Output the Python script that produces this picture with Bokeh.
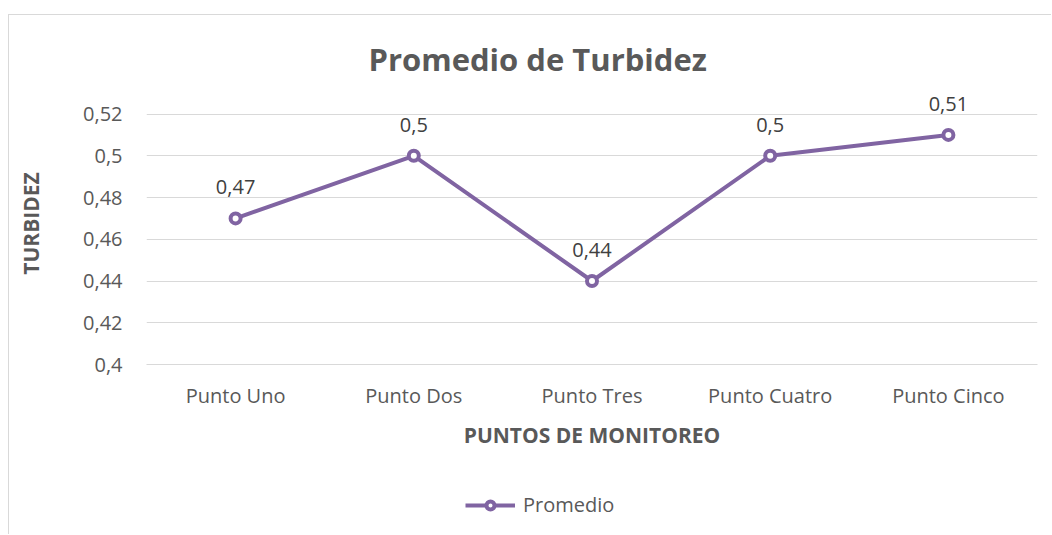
from bokeh.plotting import figure
from bokeh.layouts import column
from bokeh.models import (ColumnDataSource, FixedTicker, CustomJSTickFormatter,
                          Legend, LegendItem, Range1d, FactorRange)
from bokeh.embed import file_html
from bokeh.resources import INLINE
from bokeh.core.properties import value

# ---- data ----
categories = ["Punto Uno", "Punto Dos", "Punto Tres", "Punto Cuatro", "Punto Cinco"]
promedio = [0.47, 0.50, 0.44, 0.50, 0.51]
y_ticks = [0.40, 0.42, 0.44, 0.46, 0.48, 0.50, 0.52]
series_name = "Promedio"
title_text = "Promedio de Turbidez"
x_title = "PUNTOS DE MONITOREO"
y_title = "TURBIDEZ"


def fmt(v):
    s = f"{v:.2f}".rstrip("0")
    if s.endswith("."):
        s = s[:-1]
    return s.replace(".", ",")


labels = [fmt(v) for v in promedio]

PURPLE = "#8064A2"
GRID = "#d9d9d9"
TXT = "#595959"
FONT = "Open Sans"

src = ColumnDataSource(dict(cat=categories, val=promedio, lab=labels))

# ---------------- main chart ----------------
p = figure(x_range=FactorRange(*categories, range_padding=0),
           y_range=Range1d(0.40, 0.5351),
           width=1043, height=455, output_backend="svg", toolbar_location=None,
           min_border_left=137, min_border_right=15, min_border_top=67, min_border_bottom=106)
p.styles = {"margin-left": "8px", "margin-top": "14px",
            "border-left": "1px solid #d9d9d9", "border-top": "1px solid #d9d9d9"}
p.outline_line_color = None
p.background_fill_color = "white"
p.border_fill_color = "white"

p.title.text = title_text
p.title.align = "left"
p.title.offset = 222
p.title.standoff = 5
p.title.text_font = FONT
p.title.text_font_size = "31px"
p.title.text_font_style = "bold"
p.title.text_color = TXT

# grid
p.xgrid.grid_line_color = None
p.ygrid.grid_line_color = GRID
p.ygrid.grid_line_width = 1

# y axis
p.yaxis.ticker = FixedTicker(ticks=y_ticks)
p.yaxis.formatter = CustomJSTickFormatter(
    code="return tick.toFixed(2).replace(/0$/, '').replace('.', ',');")
p.yaxis.axis_line_color = None
p.yaxis.major_tick_line_color = None
p.yaxis.minor_tick_line_color = None
p.yaxis.major_label_standoff = 18
p.yaxis.major_label_text_font = FONT
p.yaxis.major_label_text_font_size = "20px"
p.yaxis.major_label_text_color = TXT
p.yaxis.axis_label = y_title
p.yaxis.axis_label_text_font = FONT
p.yaxis.axis_label_text_font_size = "21px"
p.yaxis.axis_label_text_font_style = "bold"
p.yaxis.axis_label_text_color = TXT
p.yaxis.axis_label_standoff = 35

# x axis
p.xaxis.axis_line_color = GRID
p.xaxis.major_tick_line_color = None
p.xaxis.major_label_standoff = 11
p.xaxis.major_label_text_font = FONT
p.xaxis.major_label_text_font_size = "20px"
p.xaxis.major_label_text_color = TXT
p.xaxis.axis_label = x_title
p.xaxis.axis_label_text_font = FONT
p.xaxis.axis_label_text_font_size = "21px"
p.xaxis.axis_label_text_font_style = "bold"
p.xaxis.axis_label_text_color = TXT
p.xaxis.axis_label_standoff = 9

# series
p.line(x="cat", y="val", source=src, line_color=PURPLE, line_width=4)
p.scatter(x="cat", y="val", source=src, size=10, fill_color="white",
          line_color=PURPLE, line_width=4)
p.text(x="cat", y="val", text="lab", source=src, text_align="center",
       text_baseline="alphabetic", y_offset=-31, text_font=value(FONT),
       text_font_size="20px", text_color="#404040")

# ---------------- legend strip ----------------
# same series drawn against a y range that excludes it, so only the legend key shows
p2 = figure(x_range=FactorRange(*categories, range_padding=0), y_range=Range1d(0.0, 0.1),
            width=1043, height=65, output_backend="svg", toolbar_location=None,
            x_axis_location=None, y_axis_location=None,
            min_border_left=0, min_border_right=0, min_border_top=0, min_border_bottom=0)
p2.styles = {"margin-left": "8px", "border-left": "1px solid #d9d9d9"}
p2.outline_line_color = None
p2.grid.visible = False
lk_line = p2.line(x="cat", y="val", source=src, line_color=PURPLE, line_width=4)
lk_mark = p2.scatter(x="cat", y="val", source=src, size=10, fill_color="white",
                     line_color=PURPLE, line_width=4)
legend = Legend(items=[LegendItem(label=series_name, renderers=[lk_line, lk_mark])],
                location=(319, 16), orientation="horizontal",
                glyph_width=50, glyph_height=20, label_standoff=8,
                padding=0, margin=0, border_line_color=None, background_fill_alpha=0,
                label_text_font=FONT, label_text_font_size="20px", label_text_color=TXT)
p2.add_layout(legend, "center")

layout = column(p, p2, spacing=0)
open("out.html", "w").write(file_html(layout, INLINE))
